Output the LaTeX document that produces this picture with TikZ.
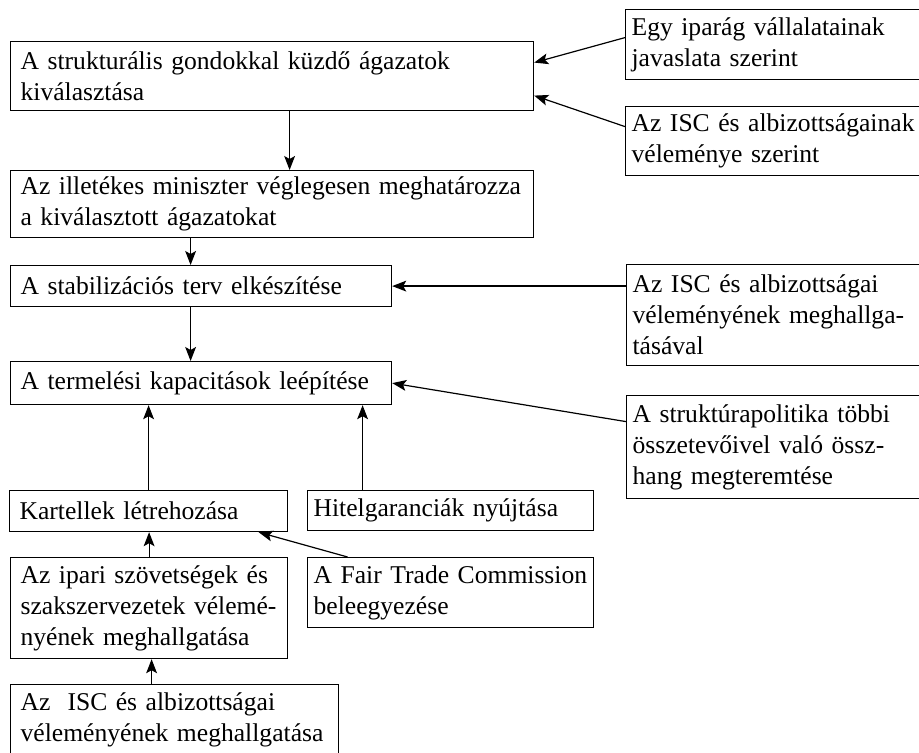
\documentclass[tikz,border=0pt]{standalone}
\usepackage{fontspec}
\setmainfont{Liberation Serif}
\usetikzlibrary{arrows.meta,positioning}

\tikzset{
  box/.style={draw, anchor=north west, align=left, inner xsep=5pt, inner ysep=0pt,
    font=\fontsize{12.8}{15.5}\selectfont},
  sidebox/.style={box, inner xsep=3pt},
}

\begin{document}
\begin{tikzpicture}[x=0.5pt, y=-0.5pt, line width=0.6pt, >={Stealth[length=7pt,width=5.4pt,inset=1.5pt]}]
		\useasboundingbox (0,0) rectangle (919,753);
		\node[box, text width=251.5pt, minimum height=34.5pt] (sel) at (10,41) {A strukturális gondokkal küzdő ágazatok\\kiválasztása};
		\node[box, text width=251.5pt, minimum height=33.5pt] (fix) at (10,170) {Az illetékes miniszter véglegesen meghatározza\\a kiválasztott ágazatokat};
		\node[box, text width=180.5pt, minimum height=20.5pt] (plan) at (10,265) {A stabilizációs terv elkészítése};
		\node[box, text width=180.5pt, minimum height=21.5pt] (cut) at (10,361) {A termelési kapacitások leépítése};
		\node[box, text width=129pt, minimum height=20.5pt] (cart) at (9,490) {Kartellek létrehozása};
		\node[sidebox, text width=137pt, minimum height=20pt] (loan) at (307,490) {Hitelgaranciák nyújtása};
		\node[box, text width=128.5pt, minimum height=50.5pt] (union) at (10,557) {Az ipari szövetségek és\\szakszervezetek vélemé-\\nyének meghallgatása};
		\node[sidebox, text width=137pt, minimum height=35pt] (ftc) at (307,557) {A Fair Trade Commission\\beleegyezése};
		\node[box, text width=154pt, minimum height=35pt] (isc2) at (10,684) {Az~ ISC és albizottságai\\véleményének meghallgatása};
		\node[sidebox, text width=142.5pt, minimum height=35pt] (firms) at (625,9) {Egy iparág vállalatainak\\javaslata szerint};
		\node[sidebox, text width=142.5pt, minimum height=34.5pt] (isc1) at (625,106) {Az ISC és albizottságainak\\véleménye szerint};
		\node[sidebox, text width=142pt, minimum height=50.5pt] (isc3) at (626,264) {Az ISC és albizottságai\\véleményének meghallga-\\tásával};
		\node[sidebox, text width=142pt, minimum height=51.5pt] (policy) at (626,395) {A struktúrapolitika többi\\összetevőivel való össz-\\hang megteremtése};

		\draw[->] ([yshift=3.5pt]firms.west) -- ([yshift=6.75pt]sel.east);
		\draw[->] ([yshift=7.25pt]isc1.west) -- ([yshift=-9.75pt]sel.east);
		\draw[->] ([xshift=8.75pt]sel.south) -- ([xshift=8.75pt]sel.south |- fix.north);
		\draw[->] ([xshift=-5.25pt]plan.north |- fix.south) -- ([xshift=-5.25pt]plan.north);
		\draw[->] ([xshift=-5.25pt]plan.south) -- ([xshift=-5.25pt]cut.north);
		\draw[->] (isc3.west |- plan.east) -- (plan.east);
		\draw[->] ([yshift=12.75pt]policy.west) -- (cut.east);
		\draw[->] (cart.north) -- (cart.north |- cut.south);
		\draw[->] ([xshift=-44pt]loan.north) -- ([xshift=-44pt]loan.north |- cut.south);
		\draw[->] (union.north) -- (union.north |- cart.south);
		\draw[->] ([xshift=-11.5pt]isc2.north) -- ([xshift=-11.5pt]isc2.north |- union.south);
		\draw[->] ([xshift=-51.5pt]ftc.north) -- ([xshift=55pt]cart.south);
\end{tikzpicture}
\end{document}
